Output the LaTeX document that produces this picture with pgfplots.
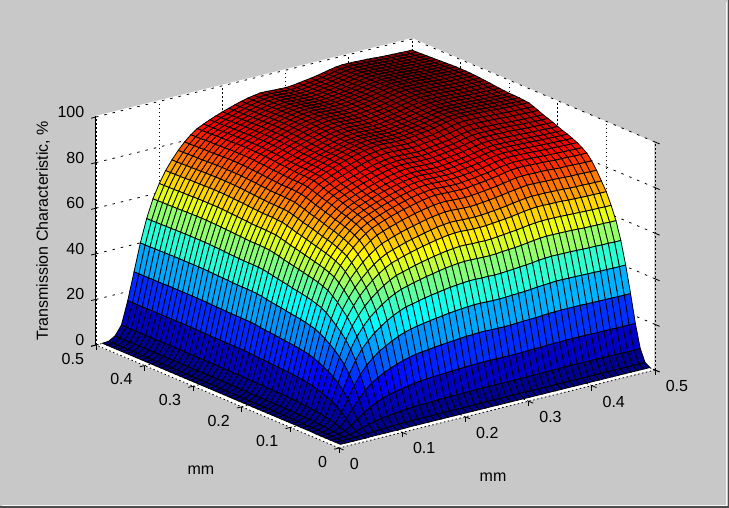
\documentclass[border=0pt]{standalone}
\usepackage{fontspec}
\setmainfont{Liberation Sans}
\usepackage{pgfplots}
\usepackage{pgfplotstable}
\pgfplotsset{compat=1.18}
\definecolor{panel}{RGB}{200,200,200}
% transmission, %: one line per y, one column per x (0.01 to 0.50 mm in steps of 0.01)
\pgfplotstableread[header=false]{
0 0 0 0 0 0.1 0.1 0.1 0.1 0.1 0.1 0.2 0.2 0.2 0.2 0.2 0.2 0.2 0.2 0.2 0.2 0.2 0.2 0.2 0.2 0.2 0.2 0.2 0.2 0.2 0.2 0.2 0.2 0.2 0.2 0.2 0.2 0.2 0.2 0.2 0.2 0.2 0.2 0.2 0.2 0.2 0.2 0.2 0.2 0.2
0 0 0 0.1 0.3 0.4 0.6 0.8 0.9 1 1.1 1.2 1.2 1.3 1.3 1.3 1.3 1.4 1.4 1.4 1.4 1.4 1.4 1.4 1.5 1.5 1.5 1.5 1.5 1.5 1.5 1.5 1.5 1.5 1.5 1.5 1.5 1.5 1.5 1.5 1.5 1.5 1.5 1.5 1.5 1.5 1.5 1.5 1.5 1.5
0 0 0.1 0.4 1.1 2 2.8 3.5 4.1 4.5 4.9 5.1 5.4 5.6 5.8 5.9 6 6.1 6.2 6.2 6.3 6.4 6.4 6.5 6.5 6.5 6.5 6.5 6.5 6.5 6.5 6.5 6.6 6.6 6.6 6.7 6.7 6.8 6.8 6.8 6.8 6.8 6.8 6.7 6.7 6.7 6.7 6.7 6.7 6.7
0 0.1 0.4 1.1 2.8 4.9 7.1 8.8 10.2 11.3 12.2 12.9 13.5 14 14.5 14.8 15.1 15.3 15.5 15.6 15.8 16 16.1 16.2 16.3 16.4 16.4 16.3 16.3 16.3 16.3 16.4 16.5 16.6 16.6 16.7 16.9 16.9 17 17 17 17 16.9 16.9 16.9 16.9 16.8 16.8 16.8 16.8
0 0.1 0.6 1.8 4.9 8.5 12.2 15.2 17.7 19.5 21 22.2 23.3 24.2 25 25.6 26 26.3 26.7 27 27.3 27.5 27.8 28 28.1 28.3 28.3 28.2 28.2 28.1 28.2 28.3 28.5 28.6 28.7 28.9 29.1 29.2 29.3 29.3 29.3 29.3 29.2 29.2 29.1 29.1 29.1 29 29 29
0 0.1 0.9 2.6 6.8 11.9 17.1 21.3 24.7 27.3 29.4 31.1 32.6 33.9 35 35.8 36.4 36.9 37.4 37.8 38.2 38.6 38.9 39.2 39.4 39.6 39.6 39.5 39.4 39.4 39.5 39.7 39.8 40 40.2 40.5 40.7 40.9 41.1 41.1 41 41 40.9 40.9 40.8 40.7 40.7 40.6 40.6 40.6
0.1 0.2 1.1 3.2 8.5 14.9 21.2 26.5 30.8 33.9 36.6 38.7 40.6 42.2 43.5 44.6 45.2 45.9 46.5 47 47.5 48 48.4 48.7 49 49.2 49.2 49.1 49.1 49 49.1 49.3 49.5 49.8 50 50.3 50.7 50.9 51.1 51.1 51 51 50.9 50.8 50.7 50.7 50.6 50.6 50.5 50.5
0.1 0.2 1.2 3.7 9.8 17.1 24.5 30.6 35.5 39.2 42.3 44.7 46.8 48.7 50.2 51.4 52.2 53 53.6 54.3 54.8 55.4 55.9 56.3 56.6 56.8 56.8 56.7 56.6 56.6 56.7 57 57.2 57.4 57.7 58.1 58.5 58.8 59 59 58.9 58.9 58.8 58.7 58.5 58.5 58.4 58.4 58.3 58.3
0.1 0.2 1.3 4 10.8 18.9 26.9 33.7 39.1 43.1 46.5 49.2 51.5 53.5 55.2 56.6 57.4 58.2 59 59.7 60.3 60.9 61.4 61.9 62.2 62.5 62.5 62.3 62.3 62.2 62.3 62.6 62.9 63.2 63.5 63.9 64.3 64.6 64.8 64.8 64.8 64.7 64.6 64.5 64.4 64.3 64.2 64.2 64.1 64.1
0.1 0.2 1.5 4.4 11.6 20.4 29.1 36.3 42.2 46.5 50.2 53.1 55.6 57.8 59.6 61.1 62 62.9 63.7 64.4 65.1 65.7 66.3 66.8 67.2 67.5 67.5 67.3 67.2 67.2 67.3 67.6 67.9 68.2 68.5 69 69.4 69.8 70 70 69.9 69.9 69.8 69.6 69.5 69.4 69.3 69.3 69.2 69.2
0.1 0.2 1.5 4.6 12.3 21.5 30.7 38.3 44.5 49.1 52.9 56 58.7 61 62.9 64.4 65.4 66.3 67.2 67.9 68.6 69.3 69.9 70.5 70.9 71.2 71.2 71 70.9 70.9 71 71.3 71.6 71.9 72.3 72.8 73.2 73.6 73.8 73.8 73.8 73.7 73.6 73.5 73.3 73.2 73.2 73.1 73 73
0.1 0.2 1.6 4.8 12.9 22.6 32.3 40.3 46.8 51.6 55.7 58.9 61.7 64.1 66.1 67.8 68.8 69.8 70.7 71.5 72.2 72.9 73.6 74.1 74.5 74.9 74.9 74.7 74.6 74.5 74.7 75 75.3 75.7 76.1 76.6 77 77.4 77.7 77.7 77.6 77.5 77.4 77.3 77.1 77 77 76.9 76.8 76.8
0.1 0.3 1.7 5 13.4 23.5 33.6 42 48.7 53.8 58 61.3 64.3 66.8 68.9 70.6 71.7 72.7 73.6 74.5 75.2 76 76.6 77.2 77.6 78 78 77.8 77.7 77.6 77.8 78.1 78.5 78.8 79.2 79.7 80.2 80.7 80.9 80.9 80.8 80.8 80.7 80.5 80.3 80.3 80.2 80.1 80 80
0.1 0.3 1.7 5.2 13.9 24.3 34.7 43.3 50.3 55.5 59.8 63.3 66.3 68.9 71.1 72.8 73.9 75 75.9 76.8 77.6 78.3 79 79.6 80.1 80.4 80.4 80.2 80.2 80.1 80.2 80.6 80.9 81.3 81.7 82.2 82.8 83.2 83.5 83.5 83.4 83.3 83.2 83 82.8 82.8 82.7 82.6 82.5 82.5
0.1 0.3 1.8 5.3 14.1 24.7 35.3 44.1 51.2 56.5 60.9 64.4 67.5 70.2 72.4 74.1 75.3 76.3 77.3 78.2 79 79.8 80.5 81.1 81.5 81.9 81.9 81.7 81.6 81.5 81.7 82.1 82.4 82.8 83.2 83.7 84.3 84.7 85 85 84.9 84.8 84.7 84.5 84.4 84.3 84.2 84.1 84 84
0.1 0.3 1.8 5.4 14.3 25.1 35.8 44.8 52 57.3 61.8 65.4 68.5 71.2 73.5 75.3 76.4 77.5 78.5 79.4 80.2 81 81.7 82.3 82.8 83.1 83.1 83 82.9 82.8 83 83.3 83.7 84 84.5 85 85.6 86 86.3 86.3 86.2 86.1 86 85.8 85.7 85.6 85.5 85.4 85.3 85.3
0.1 0.3 1.8 5.4 14.5 25.4 36.3 45.3 52.6 58 62.5 66.2 69.3 72.1 74.3 76.1 77.3 78.4 79.4 80.3 81.1 81.9 82.7 83.3 83.8 84.1 84.1 83.9 83.9 83.8 83.9 84.3 84.7 85 85.5 86 86.6 87 87.3 87.3 87.2 87.1 87 86.8 86.7 86.6 86.5 86.4 86.3 86.3
0.1 0.3 1.8 5.5 14.7 25.6 36.6 45.8 53.1 58.6 63.2 66.9 70.1 72.8 75.1 76.9 78.1 79.2 80.2 81.2 82 82.8 83.5 84.2 84.6 85 85 84.8 84.7 84.6 84.8 85.2 85.6 85.9 86.4 86.9 87.5 87.9 88.2 88.2 88.1 88 87.9 87.8 87.6 87.5 87.4 87.3 87.2 87.2
0.1 0.3 1.8 5.5 14.8 25.9 36.9 46.2 53.6 59.1 63.7 67.4 70.6 73.4 75.7 77.6 78.8 79.9 80.9 81.8 82.6 83.5 84.2 84.9 85.3 85.7 85.7 85.5 85.4 85.3 85.5 85.9 86.2 86.6 87.1 87.6 88.2 88.6 88.9 88.9 88.8 88.7 88.6 88.5 88.3 88.2 88.1 88 87.9 87.9
0.1 0.3 1.9 5.6 14.9 26.1 37.3 46.6 54.1 59.7 64.4 68.1 71.4 74.2 76.5 78.4 79.6 80.7 81.7 82.6 83.5 84.3 85.1 85.7 86.2 86.6 86.6 86.4 86.3 86.2 86.4 86.8 87.1 87.5 88 88.5 89.1 89.5 89.8 89.8 89.7 89.6 89.5 89.4 89.2 89.1 89 88.9 88.8 88.8
0.1 0.3 1.9 5.7 15.1 26.4 37.7 47.1 54.6 60.3 65 68.8 72.1 74.9 77.3 79.1 80.4 81.5 82.5 83.5 84.3 85.2 85.9 86.6 87.1 87.4 87.4 87.2 87.2 87.1 87.2 87.6 88 88.4 88.8 89.4 90 90.5 90.7 90.7 90.6 90.5 90.5 90.3 90.1 90 89.9 89.8 89.7 89.7
0.1 0.3 1.9 5.7 15.2 26.6 38 47.5 55.1 60.8 65.6 69.4 72.7 75.6 78 79.9 81.1 82.2 83.3 84.2 85.1 85.9 86.7 87.4 87.8 88.2 88.2 88 87.9 87.8 88 88.4 88.8 89.2 89.6 90.2 90.8 91.3 91.5 91.5 91.4 91.4 91.3 91.1 90.9 90.8 90.7 90.6 90.5 90.5
0.1 0.3 1.9 5.7 15.3 26.8 38.3 47.9 55.6 61.3 66.1 69.9 73.3 76.2 78.6 80.5 81.7 82.9 83.9 84.9 85.7 86.6 87.4 88 88.5 88.9 88.9 88.7 88.6 88.5 88.7 89.1 89.5 89.9 90.3 90.9 91.5 92 92.3 92.3 92.2 92.1 92 91.8 91.6 91.5 91.4 91.3 91.2 91.2
0.1 0.3 1.9 5.8 15.5 27.1 38.7 48.4 56.2 62 66.8 70.7 74.1 77 79.4 81.4 82.6 83.8 84.8 85.8 86.7 87.6 88.3 89 89.5 89.9 89.9 89.7 89.6 89.5 89.7 90.1 90.5 90.8 91.3 91.9 92.5 93 93.3 93.3 93.2 93.1 93 92.8 92.6 92.5 92.4 92.3 92.2 92.2
0.1 0.3 2 5.9 15.6 27.4 39.1 48.8 56.7 62.5 67.4 71.3 74.7 77.7 80.1 82.1 83.3 84.5 85.6 86.6 87.4 88.3 89.1 89.8 90.3 90.7 90.7 90.5 90.4 90.3 90.5 90.9 91.2 91.6 92.1 92.7 93.3 93.8 94.1 94.1 94 93.9 93.8 93.6 93.4 93.3 93.2 93.1 93 93
0.1 0.3 2 5.9 15.8 27.6 39.4 49.3 57.1 63.1 68 71.9 75.4 78.3 80.8 82.8 84 85.2 86.3 87.3 88.2 89.1 89.9 90.5 91 91.4 91.4 91.2 91.1 91 91.2 91.6 92 92.4 92.9 93.5 94.1 94.6 94.9 94.9 94.8 94.7 94.6 94.4 94.2 94.1 94 93.9 93.8 93.8
0.1 0.3 2 5.9 15.8 27.6 39.5 49.4 57.3 63.2 68.1 72.1 75.5 78.5 81 82.9 84.2 85.4 86.5 87.5 88.4 89.3 90.1 90.7 91.2 91.6 91.6 91.4 91.3 91.2 91.4 91.8 92.2 92.6 93.1 93.7 94.3 94.8 95.1 95.1 95 94.9 94.8 94.6 94.4 94.3 94.2 94.1 94 94
0.1 0.3 2 5.9 15.8 27.7 39.6 49.5 57.4 63.3 68.3 72.2 75.7 78.7 81.1 83.1 84.4 85.6 86.7 87.7 88.6 89.5 90.2 90.9 91.4 91.8 91.8 91.6 91.5 91.4 91.6 92 92.4 92.8 93.3 93.9 94.5 95 95.3 95.3 95.2 95.1 95 94.8 94.6 94.5 94.4 94.3 94.2 94.2
0.1 0.3 2 5.9 15.8 27.7 39.6 49.5 57.4 63.4 68.3 72.3 75.8 78.7 81.2 83.2 84.5 85.7 86.8 87.8 88.6 89.5 90.3 91 91.5 91.9 91.9 91.7 91.6 91.5 91.7 92.1 92.5 92.9 93.4 94 94.6 95.1 95.4 95.4 95.3 95.2 95.1 94.9 94.7 94.6 94.5 94.4 94.3 94.3
0.1 0.3 2 5.9 15.8 27.7 39.6 49.5 57.4 63.4 68.3 72.3 75.8 78.7 81.2 83.2 84.5 85.7 86.8 87.8 88.6 89.5 90.3 91 91.5 91.9 91.9 91.7 91.6 91.5 91.7 92.1 92.5 92.9 93.4 94 94.6 95.1 95.4 95.4 95.3 95.2 95.1 94.9 94.7 94.6 94.5 94.4 94.3 94.3
0.1 0.3 2 6 15.9 27.8 39.7 49.6 57.6 63.5 68.5 72.5 75.9 78.9 81.4 83.4 84.7 85.9 87 87.9 88.8 89.7 90.5 91.2 91.7 92.1 92.1 91.9 91.8 91.7 91.9 92.3 92.7 93.1 93.6 94.2 94.8 95.3 95.6 95.6 95.5 95.4 95.3 95.1 94.9 94.8 94.7 94.6 94.5 94.5
0.1 0.3 2 6 15.9 27.9 39.8 49.7 57.7 63.7 68.6 72.6 76.1 79.1 81.6 83.6 84.8 86 87.1 88.1 89 89.9 90.7 91.4 91.9 92.3 92.3 92.1 92 91.9 92.1 92.5 92.9 93.3 93.8 94.4 95 95.5 95.8 95.8 95.7 95.6 95.5 95.3 95.1 95 94.9 94.8 94.7 94.7
0.1 0.3 2 6 15.9 27.9 39.9 49.8 57.8 63.8 68.8 72.8 76.3 79.2 81.7 83.7 85 86.2 87.3 88.3 89.2 90.1 90.9 91.6 92.1 92.5 92.5 92.3 92.2 92.1 92.3 92.7 93.1 93.5 94 94.6 95.2 95.7 96 96 95.9 95.8 95.7 95.5 95.3 95.2 95.1 95 94.9 94.9
0.1 0.3 2 6 16 28 40 50 58 64 69 73 76.5 79.5 82 84 85.3 86.5 87.6 88.6 89.5 90.4 91.2 91.9 92.4 92.8 92.8 92.6 92.5 92.4 92.6 93 93.4 93.8 94.3 94.9 95.5 96 96.3 96.3 96.2 96.1 96 95.8 95.6 95.5 95.4 95.3 95.2 95.2
0.1 0.3 2 6 16 28.1 40.1 50.1 58.1 64.1 69.1 73.2 76.7 79.7 82.2 84.2 85.5 86.7 87.8 88.8 89.7 90.6 91.4 92.1 92.6 93 93 92.8 92.7 92.6 92.8 93.2 93.6 94 94.5 95.1 95.7 96.2 96.5 96.5 96.4 96.3 96.2 96 95.8 95.7 95.6 95.5 95.4 95.4
0.1 0.3 2 6 16.1 28.1 40.2 50.2 58.2 64.3 69.3 73.3 76.8 79.8 82.3 84.4 85.7 86.9 88 89 89.9 90.8 91.6 92.3 92.8 93.2 93.2 93 92.9 92.8 93 93.4 93.8 94.2 94.7 95.3 95.9 96.4 96.7 96.7 96.6 96.5 96.4 96.2 96 95.9 95.8 95.7 95.6 95.6
0.1 0.3 2 6 16.1 28.2 40.3 50.3 58.4 64.4 69.4 73.5 77 80 82.5 84.5 85.8 87 88.2 89.2 90.1 91 91.8 92.5 93 93.4 93.4 93.2 93.1 93 93.2 93.6 94 94.4 94.9 95.5 96.1 96.6 96.9 96.9 96.8 96.7 96.6 96.4 96.2 96.1 96 95.9 95.8 95.8
0.1 0.3 2 6 16.1 28.2 40.3 50.4 58.4 64.5 69.5 73.5 77.1 80.1 82.6 84.6 85.9 87.1 88.2 89.3 90.2 91.1 91.9 92.6 93.1 93.5 93.5 93.3 93.2 93.1 93.3 93.7 94.1 94.5 95 95.6 96.2 96.7 97 97 96.9 96.8 96.7 96.5 96.3 96.2 96.1 96 95.9 95.9
0.1 0.3 2 6.1 16.1 28.2 40.3 50.4 58.5 64.5 69.6 73.6 77.1 80.2 82.7 84.7 86 87.2 88.3 89.3 90.3 91.2 92 92.7 93.2 93.6 93.6 93.4 93.3 93.2 93.4 93.8 94.2 94.6 95.1 95.7 96.3 96.8 97.1 97.1 97 96.9 96.8 96.6 96.4 96.3 96.2 96.1 96 96
0.1 0.3 2 6.1 16.1 28.2 40.3 50.4 58.5 64.5 69.6 73.6 77.1 80.2 82.7 84.7 86 87.2 88.3 89.3 90.3 91.2 92 92.7 93.2 93.6 93.6 93.4 93.3 93.2 93.4 93.8 94.2 94.6 95.1 95.7 96.3 96.8 97.1 97.1 97 96.9 96.8 96.6 96.4 96.3 96.2 96.1 96 96
0.1 0.3 2 6.1 16.1 28.2 40.3 50.4 58.5 64.5 69.6 73.6 77.1 80.2 82.7 84.7 86 87.2 88.3 89.3 90.3 91.2 92 92.7 93.2 93.6 93.6 93.4 93.3 93.2 93.4 93.8 94.2 94.6 95.1 95.7 96.3 96.8 97.1 97.1 97 96.9 96.8 96.6 96.4 96.3 96.2 96.1 96 96
0.1 0.3 2 6 16.1 28.2 40.3 50.4 58.4 64.5 69.5 73.5 77.1 80.1 82.6 84.6 85.9 87.1 88.2 89.3 90.2 91.1 91.9 92.6 93.1 93.5 93.5 93.3 93.2 93.1 93.3 93.7 94.1 94.5 95 95.6 96.2 96.7 97 97 96.9 96.8 96.7 96.5 96.3 96.2 96.1 96 95.9 95.9
0.1 0.3 2 6 16.1 28.2 40.3 50.3 58.4 64.4 69.4 73.5 77 80 82.5 84.5 85.8 87 88.2 89.2 90.1 91 91.8 92.5 93 93.4 93.4 93.2 93.1 93 93.2 93.6 94 94.4 94.9 95.5 96.1 96.6 96.9 96.9 96.8 96.7 96.6 96.4 96.2 96.1 96 95.9 95.8 95.8
0.1 0.3 2 6 16.1 28.1 40.2 50.3 58.3 64.3 69.4 73.4 76.9 79.9 82.4 84.4 85.8 87 88.1 89.1 90 90.9 91.7 92.4 92.9 93.3 93.3 93.1 93 92.9 93.1 93.5 93.9 94.3 94.8 95.4 96 96.5 96.8 96.8 96.7 96.6 96.5 96.3 96.1 96 95.9 95.8 95.7 95.7
0.1 0.3 2 6 16.1 28.1 40.2 50.2 58.2 64.3 69.3 73.3 76.8 79.8 82.3 84.4 85.7 86.9 88 89 89.9 90.8 91.6 92.3 92.8 93.2 93.2 93 92.9 92.8 93 93.4 93.8 94.2 94.7 95.3 95.9 96.4 96.7 96.7 96.6 96.5 96.4 96.2 96 95.9 95.8 95.7 95.6 95.6
0.1 0.3 2 6 16.1 28.1 40.1 50.2 58.2 64.2 69.2 73.2 76.7 79.8 82.3 84.3 85.6 86.8 87.9 88.9 89.8 90.7 91.5 92.2 92.7 93.1 93.1 92.9 92.8 92.7 92.9 93.3 93.7 94.1 94.6 95.2 95.8 96.3 96.6 96.6 96.5 96.4 96.3 96.1 95.9 95.8 95.7 95.6 95.5 95.5
0.1 0.3 2 6 16 28.1 40.1 50.1 58.1 64.1 69.1 73.2 76.7 79.7 82.2 84.2 85.5 86.7 87.8 88.8 89.7 90.6 91.4 92.1 92.6 93 93 92.8 92.7 92.6 92.8 93.2 93.6 94 94.5 95.1 95.7 96.2 96.5 96.5 96.4 96.3 96.2 96 95.8 95.7 95.6 95.5 95.4 95.4
0.1 0.3 2 6 16 28 40 50.1 58.1 64.1 69.1 73.1 76.6 79.6 82.1 84.1 85.4 86.6 87.7 88.7 89.6 90.5 91.3 92 92.5 92.9 92.9 92.7 92.6 92.5 92.7 93.1 93.5 93.9 94.4 95 95.6 96.1 96.4 96.4 96.3 96.2 96.1 95.9 95.7 95.6 95.5 95.4 95.3 95.3
0.1 0.3 2 6 16 28 40 50 58 64 69 73 76.5 79.5 82 84 85.3 86.5 87.6 88.6 89.5 90.4 91.2 91.9 92.4 92.8 92.8 92.6 92.5 92.4 92.6 93 93.4 93.8 94.3 94.9 95.5 96 96.3 96.3 96.2 96.1 96 95.8 95.6 95.5 95.4 95.3 95.2 95.2
0.1 0.3 2 6 16 28 40 50 58 64 69 73 76.5 79.5 82 84 85.3 86.5 87.6 88.6 89.5 90.4 91.2 91.9 92.4 92.8 92.8 92.6 92.5 92.4 92.6 93 93.4 93.8 94.3 94.9 95.5 96 96.3 96.3 96.2 96.1 96 95.8 95.6 95.5 95.4 95.3 95.2 95.2
}\zmat
\def\coords{}
\pgfplotsforeachungrouped \j in {0,...,49}{%
 \pgfplotsforeachungrouped \i in {0,...,49}{%
  \pgfplotstablegetelem{\j}{[index]\i}\of\zmat
  \pgfmathsetmacro\xx{0.01+0.01*\i}%
  \pgfmathsetmacro\yy{0.01+0.01*\j}%
  \xdef\coords{\coords (\xx,\yy,\pgfplotsretval)}%
 }}
\begin{document}
\begin{tikzpicture}[x=1pt,y=1pt]
\path[use as bounding box] (0,0) rectangle (729,508);
\fill[panel] (0,0) rectangle (729,508);
\draw[black!70,line width=1.5pt] (0,0.75)--(728.25,0.75)--(728.25,508);
\draw[white!85!panel,line width=1pt] (2,2.5)--(726,2.5)--(726,506);
\fill[white] (339,60)--(654,138)--(654,366)--(412,470)--(95,392)--(95,163)--cycle;
\begin{axis}[
  anchor=origin, at={(339pt,60pt)},
  x={(632pt,156pt)}, y={(-486pt,206pt)}, z={(0pt,2.28pt)},
  xmin=0,xmax=0.5,ymin=0,ymax=0.5,zmin=0,zmax=100,
  clip=false,
  font=\fontsize{16}{19}\selectfont,
  /pgf/number format/assume math mode=true,
  xtick={0,0.1,0.2,0.3,0.4,0.5}, ytick={0,0.1,0.2,0.3,0.4,0.5}, ztick={0,20,40,60,80,100},
  xticklabels={0,0.1,0.2,0.3,0.4,0.5}, yticklabels={0,0.1,0.2,0.3,0.4,0.5},
  xtick pos=lower, ytick pos=lower, ztick pos=lower,
  grid=major,
  x grid style={dash pattern=on 1.5pt off 2.5pt,black,line width=0.8pt},
  y grid style={dash pattern=on 1.5pt off 2.5pt,black,line width=0.8pt},
  z grid style={dash pattern=on 2.5pt off 6pt,black,line width=0.8pt},
  axis line style={draw=none},
  tick style={black,line width=0.8pt}, tick align=outside, major tick length=5pt,
  xticklabel style={anchor=west,inner sep=0pt,xshift=6pt,yshift=-14pt},
  yticklabel style={anchor=east,inner sep=0pt,xshift=-7pt,yshift=-12.5pt},
  zticklabel style={anchor=east,inner sep=0pt,xshift=-7pt,yshift=3pt},
  xlabel={mm}, ylabel={mm}, zlabel={Transmission Characteristic, \%},
  every axis x label/.style={at={(axis cs:0.25,0,0)},anchor=center,xshift=-4pt,yshift=-68pt},
  every axis y label/.style={at={(axis cs:0,0.25,0)},anchor=center,xshift=-16.5pt,yshift=-73.5pt},
  every axis z label/.style={at={(axis cs:0,0.5,50)},anchor=center,rotate=90,yshift=53pt},
  colormap/jet, point meta min=0, point meta max=97,
]
\edef\doplot{\noexpand\addplot3[surf,shader=flat corner,draw=black,line width=0.8pt,mesh/rows=50,mesh/cols=50,mesh/ordering=x varies,point meta=z] coordinates {\coords};}
\doplot
\end{axis}
\draw[black,line width=0.8pt] (95,163)--(95,392);
\end{tikzpicture}
\end{document}
